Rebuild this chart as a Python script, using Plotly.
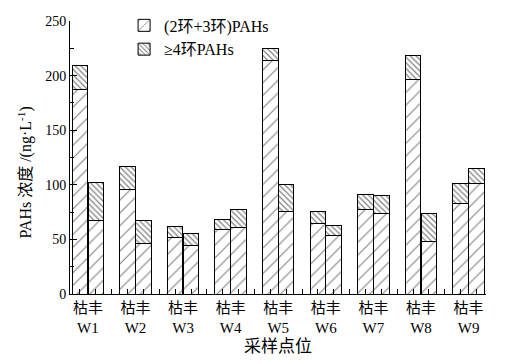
import plotly.graph_objects as go

sites = ["W1", "W2", "W3", "W4", "W5", "W6", "W7", "W8", "W9"]
seasons = ["枯", "丰"]
# (2环+3环)PAHs and ≥4环PAHs, ng/L
low_dry = [187, 96, 52, 59, 214, 65, 77, 196, 83]
high_dry = [22, 21, 10, 9, 11, 11, 14, 22, 18]
low_wet = [67, 46, 44, 61, 76, 54, 74, 48, 101]
high_wet = [35, 21, 11, 16, 24, 9, 16, 26, 14]

names = ["(2环+3环)PAHs", "≥4环PAHs"]

xs, lows, highs = [], [], []
for i in range(len(sites)):
    xs += [3 * i, 3 * i + 1]
    lows += [low_dry[i], low_wet[i]]
    highs += [high_dry[i], high_wet[i]]

FONT = "Liberation Serif, Times New Roman, Noto Sans CJK SC, serif"

fig = go.Figure()
fig.add_trace(go.Bar(
    x=xs, y=lows, name=names[0], width=0.98,
    marker=dict(color="white", line=dict(color="black", width=1),
                pattern=dict(shape="/", fgcolor="black", bgcolor="white",
                             size=9, solidity=0.12)),
))
fig.add_trace(go.Bar(
    x=xs, y=highs, name=names[1], width=0.98,
    marker=dict(color="white", line=dict(color="black", width=1),
                pattern=dict(shape="\\", fgcolor="black", bgcolor="white",
                             size=4, solidity=0.3)),
))

ticktext = [seasons[0] + seasons[1] + "<br>" + s for s in sites]
tickvals = [3 * i + 0.5 for i in range(len(sites))]

fig.update_layout(
    width=508, height=364,
    barmode="stack",
    plot_bgcolor="white", paper_bgcolor="white",
    margin=dict(l=62, r=30, t=13, b=78, autoexpand=False),
    font=dict(family=FONT, size=14, color="black"),
    showlegend=True,
    legend=dict(x=0.13, y=1.046, xanchor="left", yanchor="top", traceorder="normal",
                bgcolor="rgba(0,0,0,0)", font=dict(size=16), tracegroupgap=0),
    xaxis=dict(
        range=[-0.63, 25.6], tickmode="array", tickvals=tickvals, ticktext=ticktext,
        ticks="", showline=True, linecolor="black", linewidth=1, showgrid=False,
        zeroline=False, tickfont=dict(size=15), automargin=False,
        minor=dict(ticks="inside", tickmode="linear", tick0=0, dtick=1,
                   ticklen=5, tickcolor="black", showgrid=False),
        title=dict(text="采样点位", font=dict(size=17), standoff=5),
    ),
    yaxis=dict(
        range=[0, 250], tickmode="linear", tick0=0, dtick=50,
        ticks="inside", ticklen=7, tickcolor="black",
        showline=True, linecolor="black", linewidth=1, showgrid=False,
        zeroline=False, tickfont=dict(size=14), automargin=False,
        minor=dict(ticks="inside", tickmode="linear", tick0=0, dtick=25,
                   ticklen=4, tickcolor="black", showgrid=False),
    ),
    annotations=[dict(
        text="PAHs 浓度 /(ng·L<sup>-1</sup>)", textangle=-90,
        xref="paper", yref="paper", x=-0.108, y=0.445,
        xanchor="center", yanchor="middle", showarrow=False,
        font=dict(size=16),
    )],
)

fig.write_html("out.html")
